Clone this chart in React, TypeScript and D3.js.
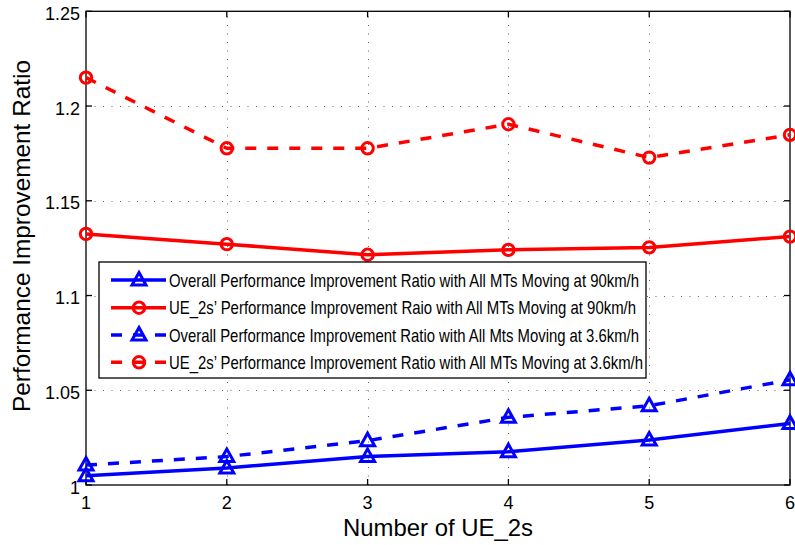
import React, { useEffect, useRef } from 'react';
import * as d3 from 'd3';

const ueCounts = [1, 2, 3, 4, 5, 6];
const overall90 = [1.0049, 1.009, 1.0151, 1.0176, 1.0237, 1.0325];
const ue2s90 = [1.1325, 1.1271, 1.1215, 1.1241, 1.1254, 1.1311];
const overall36 = [1.0105, 1.015, 1.0234, 1.0357, 1.0418, 1.0555];
const ue2s36 = [1.215, 1.1777, 1.1777, 1.1904, 1.1728, 1.1848];
const yTicks = [1, 1.05, 1.1, 1.15, 1.2, 1.25];
const legendLabels = [
  'Overall Performance Improvement Ratio with All MTs Moving at 90km/h',
  'UE_2s\u2019 Performance Improvement Raio with All MTs Moving at 90km/h',
  'Overall Performance Improvement Ratio with All Mts Moving at 3.6km/h',
  'UE_2s\u2019 Performance Improvement Ratio with All MTs Moving at 3.6km/h',
];

const FONT = 'Liberation Sans, Arial, Helvetica, sans-serif';

const App: React.FC = () => {
  const chartRef = useRef<SVGSVGElement | null>(null);

  useEffect(() => {
    if (!chartRef.current) return;
    const svg = d3.select(chartRef.current);
    svg.selectAll('*').remove();

    const left = 86, right = 790, top = 11.3, bottom = 485;

    const x = d3.scaleLinear().domain([1, 6]).range([left, right]);
    const y = d3.scaleLinear().domain([1, 1.25]).range([bottom, top]);

    svg.append('rect').attr('width', 795).attr('height', 545).attr('fill', '#fff');

    // dotted grid
    const grid = svg.append('g').attr('stroke', '#666').attr('stroke-width', 1)
      .attr('stroke-dasharray', '1,7.5');
    grid.selectAll('.gx').data(ueCounts.slice(1, -1)).enter().append('line')
      .attr('x1', (d) => Math.round(x(d)) + 0.5).attr('x2', (d) => Math.round(x(d)) + 0.5)
      .attr('y1', bottom).attr('y2', top);
    grid.selectAll('.gy').data(yTicks.slice(1, -1)).enter().append('line')
      .attr('x1', left).attr('x2', right)
      .attr('y1', (d) => Math.round(y(d)) + 0.5).attr('y2', (d) => Math.round(y(d)) + 0.5);

    // frame + inward ticks
    const axes = svg.append('g').attr('stroke', '#000').attr('stroke-width', 1.3);
    axes.append('rect').attr('x', left).attr('y', top)
      .attr('width', right - left).attr('height', bottom - top).attr('fill', 'none');
    ueCounts.forEach((d) => {
      axes.append('line').attr('x1', x(d)).attr('x2', x(d)).attr('y1', bottom).attr('y2', bottom - 6);
      axes.append('line').attr('x1', x(d)).attr('x2', x(d)).attr('y1', top).attr('y2', top + 6);
    });
    yTicks.forEach((d) => {
      axes.append('line').attr('x1', left).attr('x2', left + 6).attr('y1', y(d)).attr('y2', y(d));
      axes.append('line').attr('x1', right).attr('x2', right - 6).attr('y1', y(d)).attr('y2', y(d));
    });

    // tick labels
    svg.selectAll('.xt').data(ueCounts).enter().append('text')
      .attr('x', (d) => x(d)).attr('y', bottom + 24)
      .attr('text-anchor', 'middle').style('font-family', FONT).style('font-size', '18px')
      .text((d) => String(d));
    svg.selectAll('.yt').data(yTicks).enter().append('text')
      .attr('x', left - 6).attr('y', (d) => y(d) + 8.5)
      .attr('text-anchor', 'end').style('font-family', FONT).style('font-size', '18px')
      .text((d) => d3.format('')(+d.toFixed(2)));

    // axis titles
    svg.append('text').attr('x', 438).attr('y', 536).attr('text-anchor', 'middle')
      .attr('textLength', 190).attr('lengthAdjust', 'spacingAndGlyphs')
      .style('font-family', FONT).style('font-size', '24px').text('Number of UE_2s');
    svg.append('text').attr('transform', 'translate(30,236) rotate(-90)').attr('text-anchor', 'middle')
      .attr('textLength', 352).attr('lengthAdjust', 'spacingAndGlyphs')
      .style('font-family', FONT).style('font-size', '24px').text('Performance Improvement Ratio');

    const series = [
      { values: overall90, color: '#0000ff', dashed: false, marker: 'tri' },
      { values: ue2s90, color: '#ff0000', dashed: false, marker: 'circ' },
      { values: overall36, color: '#0000ff', dashed: true, marker: 'tri' },
      { values: ue2s36, color: '#ff0000', dashed: true, marker: 'circ' },
    ];

    const line = d3.line<number>().x((_, i) => x(ueCounts[i])).y((d) => y(d));
    const triPath = 'M0,-7.5L7,5L-7,5Z';

    const drawMarker = (g: d3.Selection<SVGGElement, unknown, null, undefined>, kind: string, color: string, cx: number, cy: number) => {
      if (kind === 'tri') {
        g.append('path').attr('d', triPath).attr('transform', `translate(${cx},${cy})`)
          .attr('fill', 'none').attr('stroke', color).attr('stroke-width', 3).attr('stroke-linejoin', 'miter');
      } else {
        g.append('circle').attr('cx', cx).attr('cy', cy).attr('r', 5.7)
          .attr('fill', 'none').attr('stroke', color).attr('stroke-width', 3);
      }
    };

    const plot = svg.append('g');
    series.forEach((s) => {
      plot.append('path').datum(s.values).attr('d', line)
        .attr('fill', 'none').attr('stroke', s.color).attr('stroke-width', 3.5)
        .attr('stroke-dasharray', s.dashed ? '11,11' : null);
      s.values.forEach((v, i) => drawMarker(plot, s.marker, s.color, x(ueCounts[i]), y(v)));
    });

    // legend
    const lg = svg.append('g');
    lg.append('rect').attr('x', 99).attr('y', 262).attr('width', 547).attr('height', 116)
      .attr('fill', '#fff').attr('stroke', '#000').attr('stroke-width', 1.3);
    const rowY = [280, 307.7, 335, 362.3];
    const textLen = [470, 467, 470, 474];
    series.forEach((s, i) => {
      lg.append('line').attr('x1', 111).attr('x2', 166).attr('y1', rowY[i]).attr('y2', rowY[i])
        .attr('stroke', s.color).attr('stroke-width', 3.5)
        .attr('stroke-dasharray', s.dashed ? '11,11' : null);
      drawMarker(lg, s.marker, s.color, 139, rowY[i]);
      lg.append('text').attr('x', 169).attr('y', rowY[i] + 6.5)
        .attr('textLength', textLen[i]).attr('lengthAdjust', 'spacingAndGlyphs')
        .style('font-family', FONT).style('font-size', '18.5px').text(legendLabels[i]);
    });
  }, []);

  return (
    <div style={{ position: 'fixed', left: 0, top: 0 }}>
      <svg ref={chartRef} width={795} height={545} style={{ display: 'block' }}></svg>
    </div>
  );
};

export default App;
